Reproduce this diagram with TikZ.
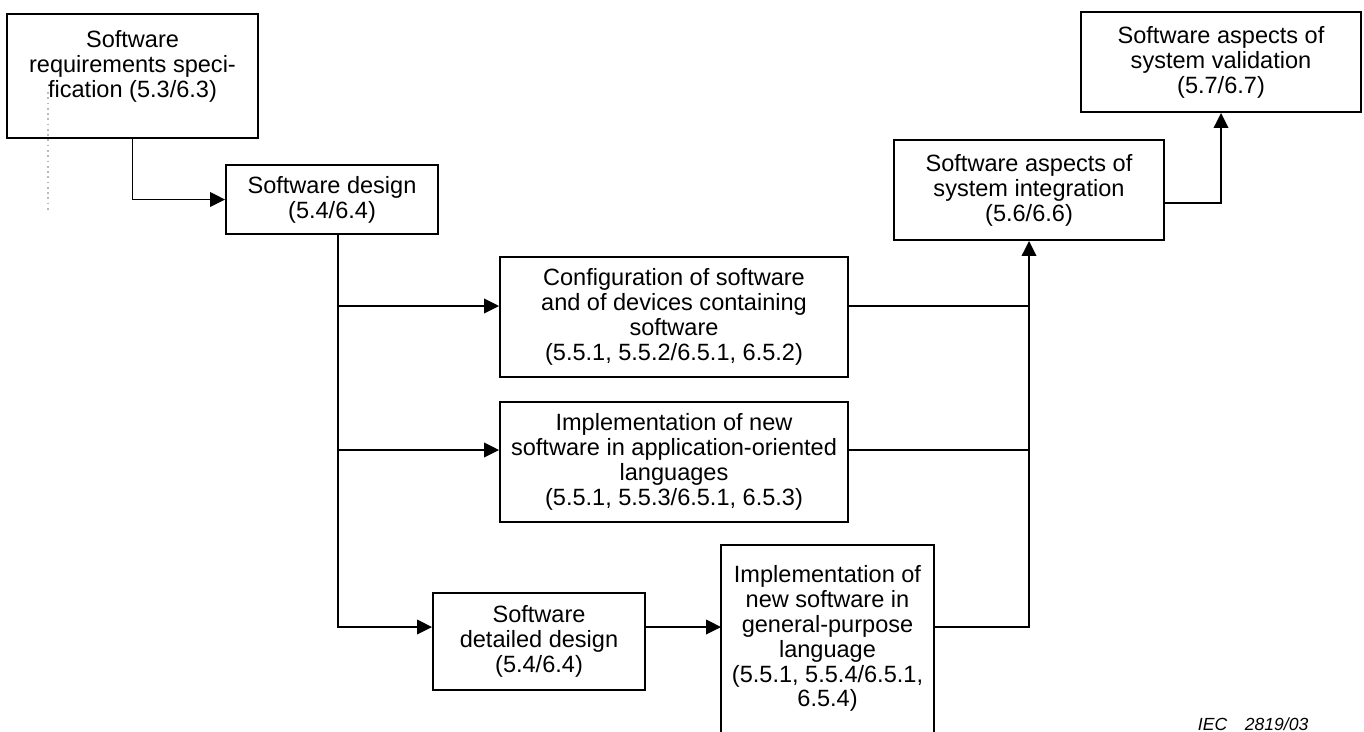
\documentclass[tikz,border=0pt]{standalone}
\usepackage{fontspec}
\setmainfont{Liberation Sans}
\usetikzlibrary{arrows.meta}

\begin{document}
\begin{tikzpicture}[x=0.02cm, y=-0.02cm, line width=1.1pt,
    stage/.style={draw, rectangle, inner sep=0pt, align=center,
        font=\fontsize{13.4}{14.2}\selectfont},
    flow/.style={-{Triangle[length=0.3cm,width=0.29cm]}},
    dotline/.style={gray!55, dotted, line width=1pt},
    iec/.style={font=\fontsize{10}{12}\selectfont\itshape, inner sep=0pt}]
%
         \useasboundingbox (0,0) rectangle (1364,731);

         \node [stage, minimum width=5.02cm, minimum height=2.48cm] (S) at (132.5,76)
               {Software\\requirements speci-\\fication (5.3/6.3)\\ \mbox{}};
         \node [stage, minimum width=4.24cm, minimum height=1.38cm] (D) at (332,199.5)
               {Software design\\(5.4/6.4)};
         \node [stage, minimum width=6.96cm, minimum height=2.4cm] (C) at (674,317)
               {Configuration of software\\and of devices containing\\software\\(5.5.1, 5.5.2/6.5.1, 6.5.2)};
         \node [stage, minimum width=6.96cm, minimum height=2.4cm] (P) at (674,462)
               {Implementation of new\\software in application-oriented\\languages\\(5.5.1, 5.5.3/6.5.1, 6.5.3)};
         \node [stage, minimum width=4.24cm, minimum height=1.94cm] (T) at (539,641.5)
               {Software\\detailed design\\(5.4/6.4)};
         \node [stage, draw=none, minimum width=4.22cm, minimum height=3.7cm] (G) at (827.5,638.5)
               {Implementation of\\new software in\\general-purpose\\language\\(5.5.1, 5.5.4/6.5.1,\\6.5.4)};
         \node [stage, minimum width=5.4cm, minimum height=2cm] (I) at (1029,190)
               {Software aspects of\\system integration\\(5.6/6.6)};
         \node [stage, minimum width=5.6cm, minimum height=2cm] (V) at (1221,62)
               {Software aspects of\\system validation\\(5.7/6.7)};
         \node [iec, anchor=base west] (L) at (1197,730) {IEC\quad 2819/03};

         % open box, runs off the bottom edge
         \draw (G.south west) |- (G.north east) -- (G.south east);

         \coordinate (b1) at (338,306);
         \coordinate (b2) at (338,450);
         \coordinate (b3) at (338,627);

         \draw [dotline] (48,92) -- (48,213);

         \draw [flow] (S.south) |- (D.west);
         \draw [flow] ([xshift=0.12cm]D.south) -- (b3) -- (T.west |- b3);
         \draw [flow] (b1) -- (C.west |- b1);
         \draw [flow] (b2) -- (P.west |- b2);
         \draw [flow] (T.east |- b3) -- (G.west |- b3);

         \draw (C.east |- b1) -- (I.south |- b1);
         \draw (P.east |- b2) -- (I.south |- b2);
         \draw [flow] (G.east |- b3) -- (I.south |- b3) -- (I.south);
         \draw [flow] ([yshift=-0.26cm]I.east) -| (V.south);

\end{tikzpicture}
\end{document}
